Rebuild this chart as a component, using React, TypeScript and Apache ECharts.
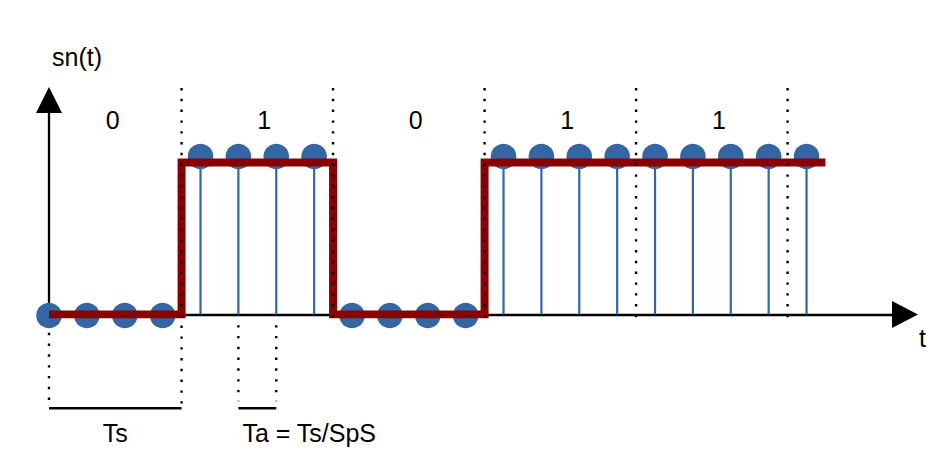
import React, { useEffect, useRef } from "react";
import * as echarts from "echarts";

// Samples of sn(t), SpS = 4 samples per symbol
const sampleValues = [0, 0, 0, 0, 1, 1, 1, 1, 0, 0, 0, 0, 1, 1, 1, 1, 1, 1, 1, 1, 1];
const samplesPerSymbol = 4;
const bits = ["0", "1", "0", "1", "1"];
// Continuous symbol waveform (red step line)
const stepTimes = [0, 3.5, 3.5, 7.5, 7.5, 11.5, 11.5, 20.5];
const stepLevels = [0, 0, 1, 1, 0, 0, 1, 1];
// Dotted guides: [t, yTop, yBottom]
const guideLines = [
  [3.5, 1.49, -0.61],
  [7.5, 1.49, -0.03],
  [11.5, 1.49, -0.03],
  [15.5, 1.49, -0.03],
  [19.5, 1.49, -0.03],
  [0, -0.12, -0.57],
  [5, -0.07, -0.57],
  [6, -0.07, -0.57],
];
// Brackets: [tStart, tEnd, y]
const brackets = [
  [0, 3.5, -0.617],
  [5, 6, -0.617],
];
const bracketLabels = ["Ts", "Ta = Ts/SpS"];
const bitLabelLevel = 1.28;
const bracketLabelLevel = -0.78;

const BLUE = "#3465a4";
const RED = "#8b0000";
const FONT = '"Liberation Sans", Arial, sans-serif';

export default function App() {
  const ref = useRef<HTMLDivElement>(null);
  useEffect(() => {
    if (!ref.current) return;
    const chart = echarts.init(ref.current, undefined, { renderer: "svg" });
    const textStyleBase = { fill: "#000", fontSize: 25, fontFamily: FONT };
    chart.setOption({
      animation: false,
      backgroundColor: "#fff",
      grid: { left: 49, right: 47, top: 100, bottom: 159.5 },
      xAxis: {
        type: "value",
        min: 0,
        max: 22.6,
        name: "t",
        nameLocation: "end",
        nameGap: 14,
        nameTextStyle: {
          color: "#000",
          fontSize: 25,
          fontFamily: FONT,
          align: "left",
          verticalAlign: "top",
          lineHeight: 46,
        },
        axisLine: {
          show: true,
          symbol: ["none", "triangle"],
          symbolSize: [27, 26],
          lineStyle: { color: "#000", width: 2.3 },
        },
        axisTick: { show: false },
        axisLabel: { show: false },
        splitLine: { show: false },
      },
      yAxis: {
        type: "value",
        min: 0,
        max: 214.5 / 152,
        name: "sn(t)",
        nameLocation: "end",
        nameGap: 43,
        nameTextStyle: {
          color: "#000",
          fontSize: 25,
          fontFamily: FONT,
          align: "left",
          verticalAlign: "middle",
          padding: [0, 0, 0, 3],
        },
        axisLine: {
          show: true,
          symbol: ["none", "triangle"],
          symbolSize: [26, 26],
          lineStyle: { color: "#000", width: 2.3 },
        },
        axisTick: { show: false },
        axisLabel: { show: false },
        splitLine: { show: false },
      },
      series: [
        {
          type: "custom",
          name: "samples",
          z: 3,
          data: sampleValues.map((v, i) => [i, v]),
          renderItem: (params: any, api: any) => {
            const t = api.value(0);
            const v = api.value(1);
            const p0 = api.coord([t, 0]);
            const p1 = api.coord([t, v]);
            const cy = p1[1] + (v > 0 ? -6 : 1);
            return {
              type: "group",
              children: [
                {
                  type: "line",
                  shape: { x1: p0[0], y1: p0[1], x2: p1[0], y2: cy },
                  style: { stroke: BLUE, lineWidth: 2.2 },
                },
                {
                  type: "circle",
                  shape: { cx: p1[0], cy, r: 12.8 },
                  style: { fill: BLUE },
                },
              ],
            };
          },
        },
        {
          type: "line",
          name: "symbols",
          z: 4,
          data: stepTimes.map((t, i) => [t, stepLevels[i]]),
          showSymbol: false,
          symbol: "none",
          lineStyle: { color: RED, width: 8, join: "miter", cap: "butt" },
        },
        {
          type: "custom",
          name: "guides",
          z: 5,
          encode: { x: 0, y: [1, 2] },
          data: guideLines,
          renderItem: (params: any, api: any) => {
            const t = api.value(0);
            const a = api.coord([t, api.value(1)]);
            const b = api.coord([t, api.value(2)]);
            return {
              type: "line",
              shape: { x1: a[0], y1: a[1], x2: b[0], y2: b[1] },
              style: { stroke: "#000", lineWidth: 2.4, lineDash: [2.4, 8.4], lineCap: "butt" },
            };
          },
        },
        {
          type: "custom",
          name: "brackets",
          z: 5,
          encode: { x: [0, 1], y: 2 },
          data: brackets,
          renderItem: (params: any, api: any) => {
            const y = api.value(2);
            const a = api.coord([api.value(0), y]);
            const b = api.coord([api.value(1), y]);
            const label = bracketLabels[params.dataIndex];
            const isFirst = params.dataIndex === 0;
            const lp = api.coord([isFirst ? (api.value(0) + api.value(1)) / 2 : api.value(0), bracketLabelLevel]);
            return {
              type: "group",
              children: [
                {
                  type: "line",
                  shape: { x1: a[0], y1: a[1], x2: b[0], y2: b[1] },
                  style: { stroke: "#000", lineWidth: 2.6 },
                },
                {
                  type: "text",
                  x: lp[0] + (isFirst ? 0 : 4),
                  y: lp[1],
                  style: {
                    ...textStyleBase,
                    text: label,
                    align: isFirst ? "center" : "left",
                    verticalAlign: "middle",
                  },
                },
              ],
            };
          },
        },
        {
          type: "custom",
          name: "bits",
          z: 5,
          data: bits.map((b, k) => [k * samplesPerSymbol + 1.5, bitLabelLevel]),
          renderItem: (params: any, api: any) => {
            const p = api.coord([api.value(0), api.value(1)]);
            return {
              type: "text",
              x: p[0] + 7,
              y: p[1],
              style: {
                ...textStyleBase,
                text: bits[params.dataIndex],
                align: "center",
                verticalAlign: "middle",
              },
            };
          },
        },
      ],
    });
    return () => chart.dispose();
  }, []);
  return (
    <div
      ref={ref}
      style={{ position: "fixed", left: 0, top: 0, width: 952, height: 474, background: "#fff" }}
    />
  );
}
